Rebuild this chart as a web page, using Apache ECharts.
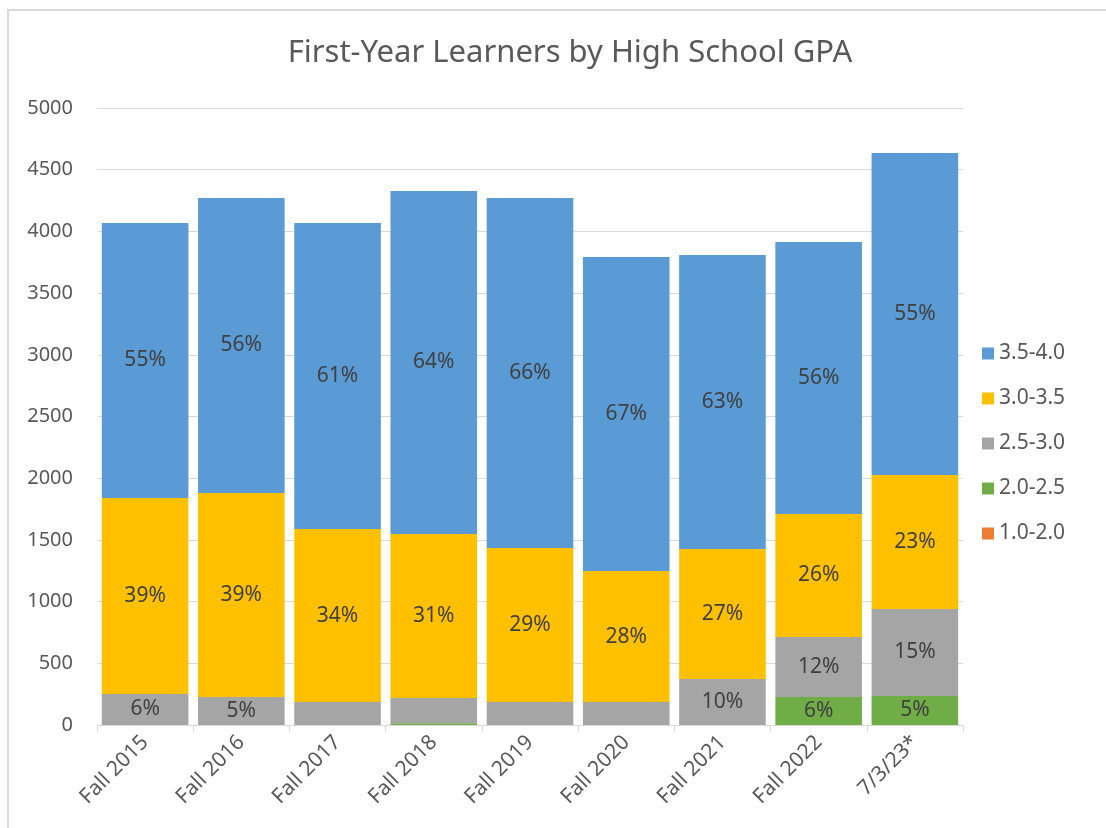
<!DOCTYPE html>
<html lang="en">
<head>
    <meta charset="UTF-8">
    <title>First-Year Learners by High School GPA</title>
    <style>
        body {
            margin: 0;
            background-color: #fff;
        }
    </style>
</head>
<body>
<div id="main" style="width: 1106px;height: 828px;"></div>
<script src="https://cdn.jsdelivr.net/npm/echarts@6/dist/echarts.min.js"></script>
<script>
    /*categories*/
    var terms = ["Fall 2015", "Fall 2016", "Fall 2017", "Fall 2018", "Fall 2019", "Fall 2020", "Fall 2021", "Fall 2022", "7/3/23*"];
    /*counts per GPA band*/
    var gpa35 = [2228, 2391, 2480, 2779, 2837, 2545, 2383, 2204, 2609];
    var gpa30 = [1589, 1653, 1402, 1329, 1248, 1062, 1053, 997, 1086];
    var gpa25 = [251, 227, 186, 204, 186, 186, 373, 486, 705];
    var gpa20 = [0, 0, 0, 15, 0, 0, 0, 227, 235];
    var gpa10 = [0, 0, 0, 0, 0, 0, 0, 0, 0];
    /*data labels as shown ('' = no label)*/
    var lab35 = ["55%", "56%", "61%", "64%", "66%", "67%", "63%", "56%", "55%"];
    var lab30 = ["39%", "39%", "34%", "31%", "29%", "28%", "27%", "26%", "23%"];
    var lab25 = ["6%", "5%", "", "", "", "", "10%", "12%", "15%"];
    var lab20 = ["", "", "", "", "", "", "", "6%", "5%"];
    var lab10 = ["", "", "", "", "", "", "", "", ""];
    /*y axis*/
    var yTicks = [0, 500, 1000, 1500, 2000, 2500, 3000, 3500, 4000, 4500, 5000];

    var font = '"Noto Sans", "Open Sans", sans-serif';

    function makeSeries(name, data, labels, color) {
        return {
            name: name,
            type: 'bar',
            stack: 'gpa',
            barCategoryGap: '10%',
            itemStyle: {color: color},
            label: {
                show: true,
                position: 'inside',
                color: '#404040',
                fontSize: 21,
                fontFamily: font,
                formatter: function (p) {
                    return labels[p.dataIndex];
                }
            },
            data: data
        };
    }

    var chart = echarts.init(document.getElementById('main'));
    var option = {
        animation: false,
        graphic: [{
            type: 'rect',
            shape: {x: 8, y: 10, width: 1110, height: 830},
            style: {fill: 'none', stroke: '#d9d9d9', lineWidth: 2},
            silent: true
        }],
        title: {
            text: 'First-Year Learners by High School GPA',
            left: 565,
            top: 33,
            textAlign: 'center',
            textStyle: {
                color: '#595959',
                fontSize: 31,
                fontWeight: 'normal',
                fontFamily: font
            }
        },
        legend: {
            orient: 'vertical',
            left: 977,
            top: 338,
            itemWidth: 12,
            itemHeight: 12,
            itemGap: 24,
            icon: 'rect',
            textStyle: {color: '#595959', fontSize: 21, fontFamily: font},
            data: ['3.5-4.0', '3.0-3.5', '2.5-3.0', '2.0-2.5', '1.0-2.0']
        },
        grid: {
            left: 97,
            right: 143,
            top: 108,
            bottom: 103,
            containLabel: false
        },
        xAxis: {
            type: 'category',
            data: terms,
            axisLine: {lineStyle: {color: '#d9d9d9', width: 1}},
            axisTick: {show: true, length: 7, lineStyle: {color: '#d9d9d9'}},
            axisLabel: {
                interval: 0,
                rotate: 45,
                margin: 14,
                color: '#595959',
                fontSize: 21,
                fontFamily: font
            }
        },
        yAxis: {
            type: 'value',
            min: yTicks[0],
            max: yTicks[yTicks.length - 1],
            interval: 500,
            axisLine: {show: false},
            axisTick: {show: false},
            splitLine: {lineStyle: {color: '#d9d9d9', width: 1}},
            axisLabel: {
                margin: 24,
                color: '#595959',
                fontSize: 20,
                fontFamily: font,
                formatter: function (v) {
                    return String(v);
                }
            }
        },
        series: [
            makeSeries('1.0-2.0', gpa10, lab10, '#ED7D31'),
            makeSeries('2.0-2.5', gpa20, lab20, '#70AD47'),
            makeSeries('2.5-3.0', gpa25, lab25, '#A5A5A5'),
            makeSeries('3.0-3.5', gpa30, lab30, '#FFC000'),
            makeSeries('3.5-4.0', gpa35, lab35, '#5B9BD5')
        ]
    };
    chart.setOption(option);
</script>
</body>
</html>
